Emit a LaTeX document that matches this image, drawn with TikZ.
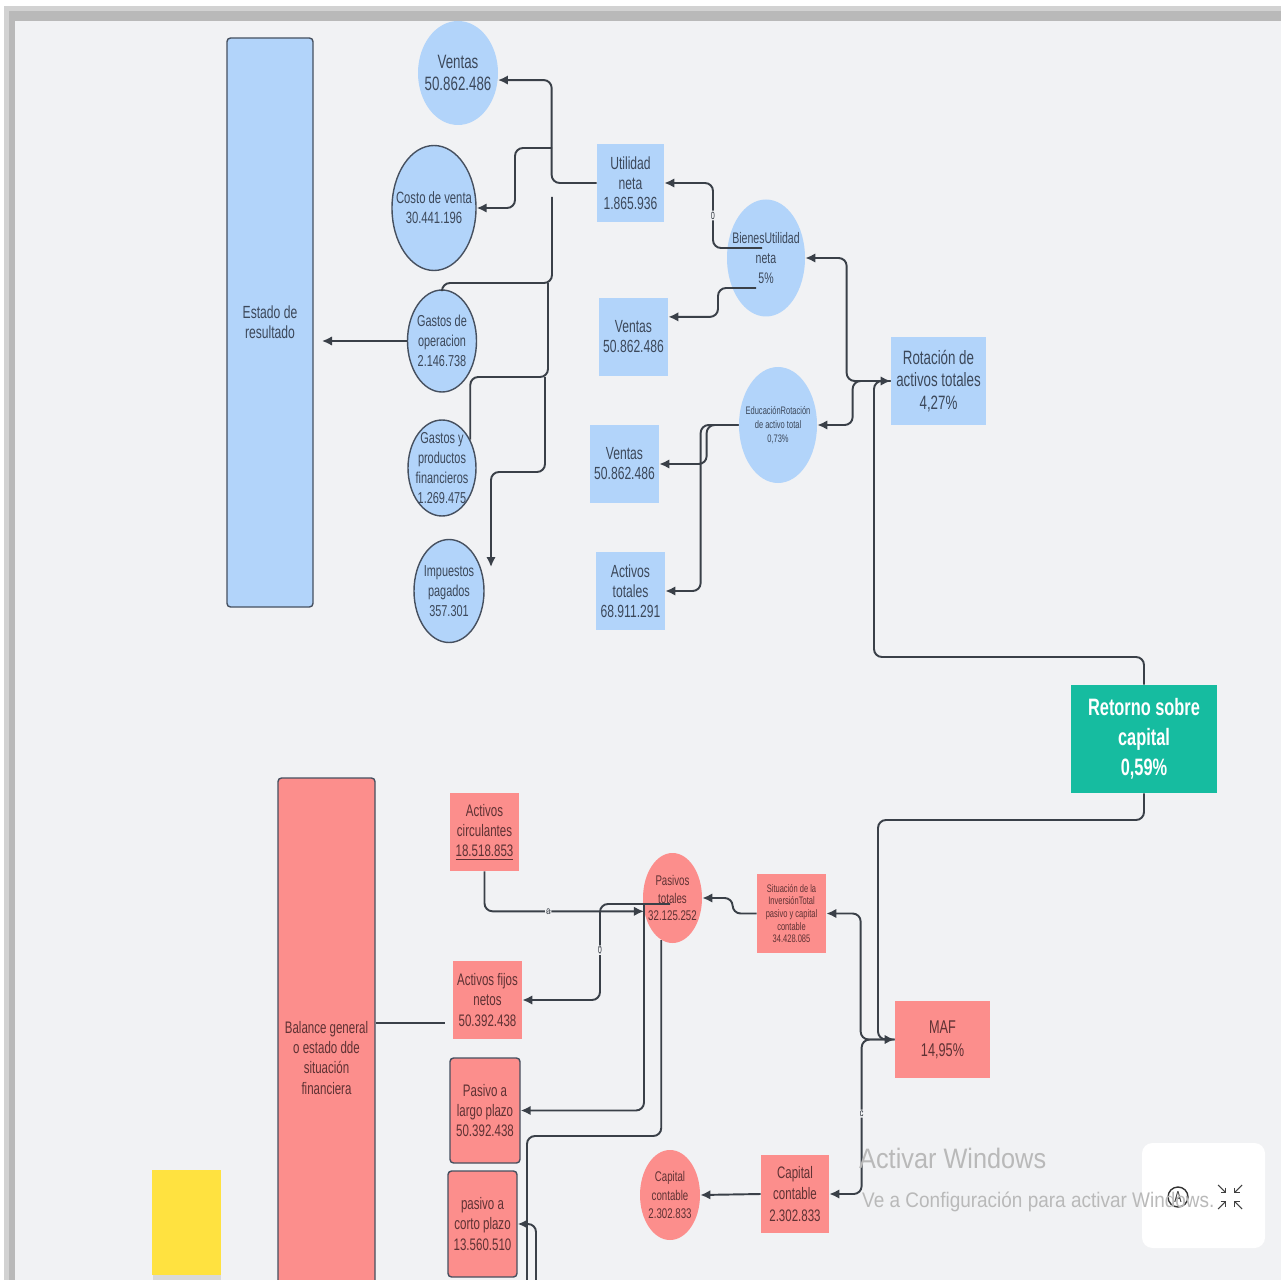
\documentclass[tikz,border=0pt]{standalone}
\usepackage{fontspec}
\setmainfont{Liberation Sans}[FakeStretch=0.69]
\newfontfamily\marcafont{Liberation Sans}[FakeStretch=0.9]
\usetikzlibrary{arrows.meta, shapes.geometric}

\newcommand{\PX}{0.02cm}
\newcommand{\CAJAW}{69}
\newcommand{\CAJAH}{78}
\newcommand{\fs}[2]{\fontsize{#1}{#2}\selectfont}

\definecolor{lienzo}{RGB}{241,242,244}
\definecolor{azul}{RGB}{178,212,250}
\definecolor{rojo}{RGB}{252,142,140}
\definecolor{verde}{RGB}{22,188,160}
\definecolor{amarillo}{RGB}{255,226,64}
\definecolor{clinea}{RGB}{58,64,72}
\definecolor{cborde}{RGB}{70,80,95}
\definecolor{txtazul}{RGB}{60,72,90}
\definecolor{txtrojo}{RGB}{95,50,52}

\tikzset{
  dim/.style 2 args={minimum width=#1*\PX, minimum height=#2*\PX, inner sep=0pt},
  cajaA/.style={rectangle, fill=azul, text=txtazul, align=center, font=\fs{10}{11.4}},
  circA/.style={ellipse, fill=azul},
  cajaR/.style={rectangle, fill=rojo, text=txtrojo, align=center, font=\fs{9.5}{11.4}},
  circR/.style={ellipse, fill=rojo},
  borde/.style={draw=cborde, line width=0.8pt},
  txtA/.style={text=txtazul, align=center},
  txtR/.style={text=txtrojo, align=center},
  linea/.style={draw=clinea, line width=1.1pt, rounded corners=0.16cm},
  conn/.style={linea, -{Latex[length=0.2cm,width=0.19cm]}},
  marca/.style={fill=lienzo, inner sep=0.6pt, text=clinea, font=\fs{6}{6}},
}

\begin{document}
\begin{tikzpicture}[x=\PX, y=-\PX]
    \useasboundingbox (0,0) rectangle (1281,1280);

    % marco de la captura
    \fill[white] (0,0) rectangle (1281,1280);
    \fill[gray!35] (4,6) rectangle (1281,1280);
    \fill[gray!55] (9,11) rectangle (1281,1280);
    \fill[lienzo] (15,21) rectangle (1281,1280);

    \begin{scope}
        \clip (15,21) rectangle (1281,1280);

        % estado de resultado (azul)
        \node[cajaA, borde, dim={86}{569}, rounded corners=2pt] (estado) at (270,322.5) {Estado de\\resultado};
        \node[circA, dim={80}{104}, label={[txtA, font=\fs{11}{13}]center:{Ventas\\50.862.486}}] (ventasA) at (458,73) {};
        \node[circA, borde, dim={84}{125}, label={[txtA, font=\fs{9.3}{11.5}]center:{Costo de venta\\30.441.196}}] (costo) at (434,208) {};
        \node[circA, borde, dim={69}{102}, label={[txtA, font=\fs{9}{11.4}]center:{Gastos de\\operacion\\2.146.738}}] (gastosop) at (442,341) {};
        \node[circA, borde, dim={68}{96}, label={[txtA, font=\fs{9}{11.4}]center:{Gastos y\\productos\\financieros\\1.269.475}}] (gastosfin) at (442,468) {};
        \node[circA, borde, dim={70}{103}, label={[txtA, font=\fs{9}{11.4}]center:{Impuestos\\pagados\\357.301}}] (impuestos) at (449,591) {};

        \node[cajaA, dim={67}{\CAJAH}] (utilidad) at (630.5,183) {Utilidad\\neta\\1.865.936};
        \node[circA, dim={78}{117}, label={[txtA, font=\fs{8.7}{11.4}]center:{BienesUtilidad\\neta\\5\%}}] (bienes) at (766,258) {};
        \node[cajaA, dim={\CAJAW}{\CAJAH}] (ventasB) at (633.5,337) {Ventas\\50.862.486};
        \node[circA, dim={78}{116}, label={[txtA, font=\fs{6.2}{8}]center:{EducaciónRotación\\de activo total\\0,73\%}}] (educacion) at (778,425) {};
        \node[cajaA, dim={\CAJAW}{\CAJAH}] (ventasC) at (624.5,464) {Ventas\\50.862.486};
        \node[cajaA, dim={\CAJAW}{\CAJAH}] (activostot) at (630.5,591) {Activos\\totales\\68.911.291};
        \node[cajaA, dim={95}{88}, font=\fs{11}{13}] (rotacion) at (938.5,381) {Rotación de\\activos totales\\4,27\%};

        % balance general (rojo)
        \node[cajaR, borde, dim={97}{560}, rounded corners=2pt] (balance) at (326.5,1058) {Balance general\\o estado dde\\situación\\financiera};
        \node[cajaR, dim={\CAJAW}{\CAJAH}] (actcirc) at (484.5,832) {Activos\\circulantes\\\underline{18.518.853}};
        \node[cajaR, dim={\CAJAW}{\CAJAH}] (actfijos) at (487.5,1000) {Activos fijos\\netos\\50.392.438};
        \node[cajaR, borde, dim={70}{105}, rounded corners=2pt] (pasivolargo) at (485,1110.5) {Pasivo a\\largo plazo\\50.392.438};
        \node[cajaR, borde, dim={69}{106}, rounded corners=2pt] (pasivocorto) at (482.5,1224) {pasivo a\\corto plazo\\13.560.510};
        \node[circR, dim={59}{90}, label={[txtR, font=\fs{8}{9.8}]center:{Pasivos\\totales\\32.125.252}}] (pasivostot) at (672.5,898) {};
        \node[cajaR, dim={69}{79}, font=\fs{6.2}{7.2}] (multiplicador) at (791.5,913.5) {Situación de la\\InversiónTotal\\pasivo y capital\\contable\\34.428.085};
        \node[cajaR, dim={95}{77}, font=\fs{10.5}{13}] (maf) at (942.5,1039.5) {MAF\\14,95\%};
        \node[circR, dim={60}{90}, label={[txtR, font=\fs{8}{10.6}]center:{Capital\\contable\\2.302.833}}] (capcirc) at (670,1195) {};
        \node[cajaR, dim={68}{\CAJAH}, font=\fs{9.5}{12}] (caprect) at (795,1194) {Capital\\contable\\2.302.833};
        \node[rectangle, fill=verde, dim={146}{108}, text=white, align=center, font=\bfseries\fs{13.5}{17}] (retorno) at (1144,739) {Retorno sobre\\capital\\0,59\%};

        % nota amarilla
        \fill[gray!30] (153,1177) rectangle (221,1280);
        \fill[amarillo] (152,1170) rectangle (221,1275);

        % puntos de paso
        \coordinate (trA) at (552,148);
        \coordinate (trB) at (552,197);
        \coordinate (trC) at (548,283);
        \coordinate (trD) at (545,377);
        \coordinate (impIn) at (491,567);
        \coordinate (estIn) at (322,341);
        \coordinate (bu1) at (762,248);
        \coordinate (bu2) at (756,288);
        \coordinate (rot1) at (874,657);
        \coordinate (ret1) at (878,820);
        \coordinate (pt1) at (670,904);
        \coordinate (pt2) at (644,905);
        \coordinate (finA) at (527,1290);
        \coordinate (iniB) at (536,1290);
        \coordinate (bal1) at (445,1023);

        % conectores de arriba
        \draw[conn] (utilidad.west) -- ++(-45,0) |- (ventasA.-10);
        \draw[conn] (trA) -- ++(-37,0) |- (costo.east);
        \draw[linea] (trB) -- ++(0,86) -| (gastosop.north);
        \draw[linea] (trC) -- ++(0,94) -| (gastosfin.45);
        \draw[conn] (trD) -- ++(0,95) -| (impIn);
        \draw[conn] (gastosop.west) -- (estIn);
        \draw[conn] (bu1) -- ++(-49,0) |- (utilidad.east) node[marca, pos=0.25] {0};
        \draw[conn] (bu2) -- ++(-38,0) |- (ventasB.30);
        \draw[conn] (rotacion.west) -- ++(-44,0) |- (bienes.east);
        \draw[conn] (rotacion.west) -- ++(-38,0) |- (educacion.east);
        \draw[conn] (retorno.north) |- (rot1) |- (rotacion.west);
        \draw[conn] (educacion.west) -- ++(-32,0) |- (ventasC.east);
        \draw[conn] (educacion.west) -- ++(-38,0) |- (activostot.east);

        % conectores de abajo
        \draw[linea] (balance.east |- bal1) -- (bal1);
        \draw[conn] (actcirc.south) |- (pasivostot.205) node[marca, pos=0.7] {a};
        \draw[conn] (pt1) -- ++(-70,0) |- (actfijos.east) node[marca, pos=0.24] {0};
        \draw[conn] (pt2) |- (pasivolargo.east);
        \draw[linea] (pasivostot.255) -- ++(0,196) -| (finA);
        \draw[conn] (iniB) |- (pasivocorto.east);
        \draw[conn] (multiplicador.west) -- ++(-24,0) |- (pasivostot.east);
        \draw[conn] (caprect.west) -- (capcirc.east);
        \draw[conn] (retorno.south) |- (ret1) |- (maf.west);
        \draw[conn] (maf.west) -- ++(-34,0) |- (multiplicador.east);
        \draw[conn] (maf.west) -- ++(-33,0) |- (caprect.east) node[marca, pos=0.24] {c};

        % aviso de windows y botones
        \fill[white, rounded corners=6pt] (1142,1143) rectangle (1265,1248);
        \node[circle, draw=black!80, line width=0.8pt, minimum size=20*\PX, inner sep=0pt, text=black!80, font=\fs{9}{9}] (iconoA) at (1178,1197) {A};
        \foreach \sx/\sy in {-1/-1, 1/-1, -1/1, 1/1}
            \draw[black!75, line width=0.6pt, -{Straight Barb[length=2pt]}] (1230+\sx*12,1197+\sy*12) -- (1230+\sx*4,1197+\sy*4);
        \node[anchor=base west, text=gray!55, font=\marcafont\fs{16}{16}] (activar) at (853,1168) {Activar Windows};
        \node[anchor=base west, text=gray!55, font=\marcafont\fs{12}{12}] (config) at (856,1207) {Ve a Configuración para activar Windows.};
    \end{scope}
\end{tikzpicture}
\end{document}
